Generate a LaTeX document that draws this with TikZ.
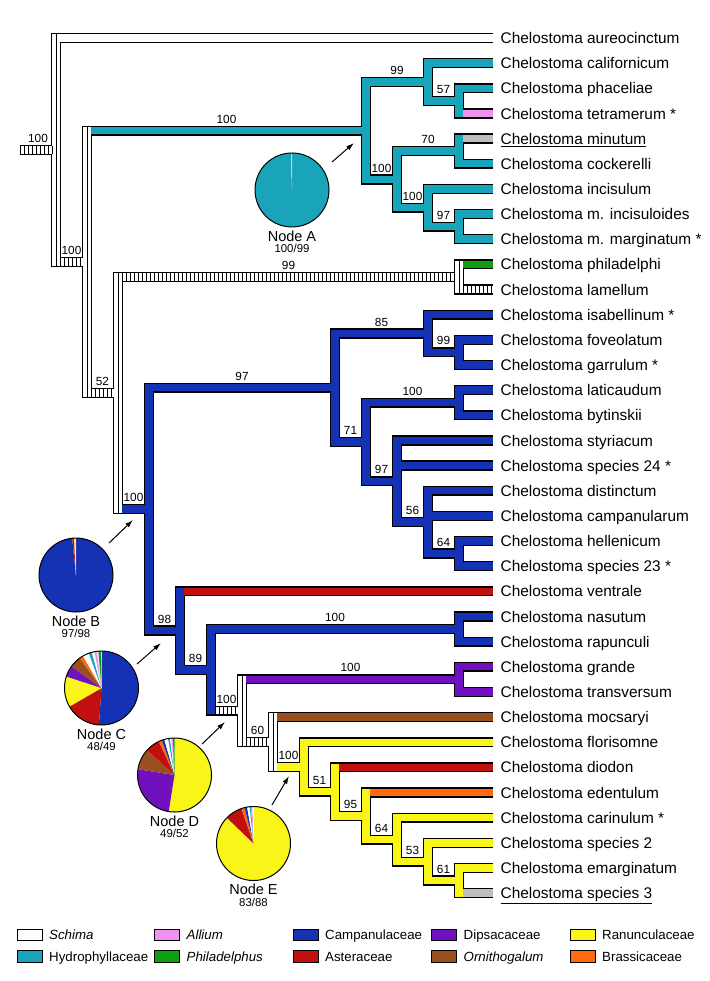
\documentclass[tikz,border=0pt]{standalone}
\usepackage{fontspec}
\setmainfont{Liberation Sans}
\usetikzlibrary{calc,arrows.meta}
\definecolor{cTeal}{RGB}{26,164,186}
\definecolor{cBlue}{RGB}{22,50,180}
\definecolor{cRed}{RGB}{192,16,16}
\definecolor{cPurple}{RGB}{112,16,190}
\definecolor{cBrown}{RGB}{154,80,30}
\definecolor{cYellow}{RGB}{250,245,25}
\definecolor{cOrange}{RGB}{255,105,15}
\definecolor{cPink}{RGB}{240,145,240}
\definecolor{cGreen}{RGB}{15,160,15}
\definecolor{cGrey}{RGB}{190,190,190}
\begin{document}
\begin{tikzpicture}[x=1pt,y=-1pt,
  outl/.style={draw=black,line width=10.2pt,line join=miter,line cap=butt},
  sfill/.style={draw=#1,line width=7.4pt,line cap=butt},
  vfill/.style={draw=#1,line width=7.4pt,line cap=rect},
  hatchln/.style={draw=black,line width=7.4pt,line cap=butt,dash pattern=on 1pt off 3pt},
  vhatch/.style={draw=black,line width=0.9pt},
  leaflbl/.style={anchor=base west,inner sep=0pt,font=\fontsize{15.4}{18}\selectfont},
  suplbl/.style={anchor=base,inner sep=0pt,font=\fontsize{11.8}{14}\selectfont},
  piecap/.style={anchor=base,inner sep=0pt,font=\fontsize{14.5}{17}\selectfont},
  piefrac/.style={anchor=base,inner sep=0pt,font=\fontsize{11.4}{13}\selectfont},
  legbox/.style={draw=black,line width=1pt,minimum width=25pt,minimum height=11.5pt,inner sep=0pt},
  legtxt/.style={anchor=base west,inner sep=0pt,font=\fontsize{13.3}{16}\selectfont},
  pointer/.style={draw=black,line width=1pt,-{Latex[length=8pt,width=5pt]}}]
\useasboundingbox (0,0) rectangle (709,981);
% leaves
\foreach \i in {1,...,35} \coordinate (L\i) at (493,{38+25.15*(\i-1)});
% internal nodes
\coordinate (r0) at (20,149.95);
\coordinate (root) at (56,149.95);
\coordinate (n2) at (87,261.89);
\coordinate (nA) at (366,130.74);
\coordinate (n99a) at (428,82.01);
\coordinate (n57) at (459,100.88);
\coordinate (n100a) at (397,179.47);
\coordinate (n70) at (459,151.18);
\coordinate (n100b) at (428,207.76);
\coordinate (n97a) at (459,226.63);
\coordinate (n52) at (118,393.04);
\coordinate (nPh) at (459,276.93);
\coordinate (nB) at (149,509.16);
\coordinate (n97b) at (335,387.74);
\coordinate (n85) at (428,333.51);
\coordinate (n99c) at (459,352.38);
\coordinate (n71) at (366,441.97);
\coordinate (n100c) at (459,402.68);
\coordinate (n97c) at (397,481.27);
\coordinate (n56) at (428,522.14);
\coordinate (n64a) at (459,553.58);
\coordinate (n98) at (180,630.57);
\coordinate (n89) at (211,669.84);
\coordinate (n100d) at (459,629.03);
\coordinate (n100e) at (242,710.66);
\coordinate (n100f) at (459,679.33);
\coordinate (n60) at (273,742.00);
\coordinate (n100g) at (304,766.96);
\coordinate (n51) at (335,791.71);
\coordinate (n95) at (366,816.08);
\coordinate (n64b) at (397,839.66);
\coordinate (n53) at (428,861.66);
\coordinate (n61) at (459,880.53);
% ---- outlines
\draw[outl] (r0) -- (root);
\foreach \n/\a/\b in {root/L1/n2, n2/nA/n52, nA/n99a/n100a, n99a/L2/n57, n57/L3/L4,
  n100a/n70/n100b, n70/L5/L6, n100b/L7/n97a, n97a/L8/L9, n52/nPh/nB, nPh/L10/L11,
  nB/n97b/n98, n97b/n85/n71, n85/L12/n99c, n99c/L13/L14, n71/n100c/n97c, n100c/L15/L16,
  n97c/L17/n56, n56/L19/n64a, n64a/L21/L22, n98/L23/n89, n89/n100d/n100e, n100d/L24/L25,
  n100e/n100f/n60, n100f/L26/L27, n60/L28/n100g, n100g/L29/n51, n51/L30/n95, n95/L31/n64b,
  n64b/L32/n53, n53/L33/n61, n61/L34/L35}
  \draw[outl] (\a) -| (\n) |- (\b);
\draw[outl] (n97c |- L18) -- (L18);
\draw[outl] (n56 |- L20) -- (L20);
% ---- stem fills
\draw[sfill=white] (r0) -- (root);
\foreach \p/\c/\col in {root/L1/white, root/n2/white, n2/nA/cTeal, n2/n52/white,
  nA/n99a/cTeal, nA/n100a/cTeal, n99a/L2/cTeal, n99a/n57/cTeal, n57/L3/cTeal, n57/L4/cPink,
  n100a/n70/cTeal, n100a/n100b/cTeal, n70/L5/cGrey, n70/L6/cTeal, n100b/L7/cTeal, n100b/n97a/cTeal,
  n97a/L8/cTeal, n97a/L9/cTeal,
  n52/nPh/white, n52/nB/cBlue, nPh/L10/cGreen, nPh/L11/white,
  nB/n97b/cBlue, nB/n98/cBlue, n97b/n85/cBlue, n97b/n71/cBlue, n85/L12/cBlue, n85/n99c/cBlue,
  n99c/L13/cBlue, n99c/L14/cBlue, n71/n100c/cBlue, n71/n97c/cBlue, n100c/L15/cBlue, n100c/L16/cBlue,
  n97c/L17/cBlue, n97c/L18/cBlue, n97c/n56/cBlue, n56/L19/cBlue, n56/L20/cBlue, n56/n64a/cBlue,
  n64a/L21/cBlue, n64a/L22/cBlue,
  n98/L23/cRed, n98/n89/cBlue, n89/n100d/cBlue, n89/n100e/white, n100d/L24/cBlue, n100d/L25/cBlue,
  n100e/n100f/cPurple, n100e/n60/white, n100f/L26/cPurple, n100f/L27/cPurple,
  n60/L28/cBrown, n60/n100g/cYellow, n100g/L29/cYellow, n100g/n51/cYellow, n51/L30/cRed,
  n51/n95/cYellow, n95/L31/cOrange, n95/n64b/cYellow, n64b/L32/cYellow, n64b/n53/cYellow,
  n53/L33/cYellow, n53/n61/cYellow, n61/L34/cYellow, n61/L35/cGrey}
  \draw[sfill=\col] (\p |- \c) -- (\c);
% ---- vertical fills
\foreach \n/\a/\b/\col in {root/L1/n2/white, n2/nA/n52/white, nA/n99a/n100a/cTeal,
  n99a/L2/n57/cTeal, n57/L3/L4/cTeal, n100a/n70/n100b/cTeal, n70/L5/L6/cTeal,
  n100b/L7/n97a/cTeal, n97a/L8/L9/cTeal, n52/nPh/nB/white, nPh/L10/L11/white,
  nB/n97b/n98/cBlue, n97b/n85/n71/cBlue, n85/L12/n99c/cBlue, n99c/L13/L14/cBlue,
  n71/n100c/n97c/cBlue, n100c/L15/L16/cBlue, n97c/L17/n56/cBlue, n56/L19/n64a/cBlue,
  n64a/L21/L22/cBlue, n98/L23/n89/cBlue, n89/n100d/n100e/cBlue, n100d/L24/L25/cBlue,
  n100e/n100f/n60/white, n100f/L26/L27/cPurple, n60/L28/n100g/white, n100g/L29/n51/cYellow,
  n51/L30/n95/cYellow, n95/L31/n64b/cYellow, n64b/L32/n53/cYellow, n53/L33/n61/cYellow,
  n61/L34/L35/cYellow}
  \draw[vfill=\col] (\n |- \a) -- (\n |- \b);
% ---- hatching (equivocal)
\draw[hatchln] (r0) -- ($(root)+(-3.7,0)$);
\foreach \p/\c in {root/n2, n2/n52, n52/nPh, n89/n100e, n100e/n60}
  \draw[hatchln] ($(\p |- \c)+(3.7,0)$) -- ($(\c)+(-3.7,0)$);
\draw[hatchln] ($(nPh |- L11)+(3.7,0)$) -- (L11);
\foreach \n/\a/\b in {root/L1/n2, n2/nA/n52, n52/nPh/nB, nPh/L10/L11, n100e/n100f/n60, n60/L28/n100g}
  \draw[vhatch] ($(\n |- \a)+(0,-3.7)$) -- ($(\n |- \b)+(0,3.7)$);
% ---- support values
\foreach \p/\n/\v in {r0/root/100, root/n2/100, n2/nA/100, nA/n99a/99, n99a/n57/57,
  nA/n100a/100, n100a/n70/70, n100a/n100b/100, n100b/n97a/97, n2/n52/52, n52/nPh/99,
  n52/nB/100, nB/n97b/97, n97b/n85/85, n85/n99c/99, n97b/n71/71, n71/n100c/100, n71/n97c/97,
  n97c/n56/56, n56/n64a/64, nB/n98/98, n98/n89/89, n89/n100d/100, n89/n100e/100,
  n100e/n100f/100, n100e/n60/60, n60/n100g/100, n100g/n51/51, n51/n95/95, n95/n64b/64,
  n64b/n53/53, n53/n61/61}
  \node[suplbl] (s-\n) at ($(\p |- \n)!.5!(\n)+(0,-7.4)$) {\v};
% ---- taxon names
\foreach \i/\t in {1/{Chelostoma aureocinctum}, 2/{Chelostoma californicum},
  3/{Chelostoma phaceliae}, 4/{Chelostoma tetramerum *}, 5/{\underline{Chelostoma minutum}},
  6/{Chelostoma cockerelli}, 7/{Chelostoma incisulum}, 8/{Chelostoma m. incisuloides},
  9/{Chelostoma m. marginatum *}, 10/{Chelostoma philadelphi}, 11/{Chelostoma lamellum},
  12/{Chelostoma isabellinum *}, 13/{Chelostoma foveolatum}, 14/{Chelostoma garrulum *},
  15/{Chelostoma laticaudum}, 16/{Chelostoma bytinskii}, 17/{Chelostoma styriacum},
  18/{Chelostoma species 24 *}, 19/{Chelostoma distinctum}, 20/{Chelostoma campanularum},
  21/{Chelostoma hellenicum}, 22/{Chelostoma species 23 *}, 23/{Chelostoma ventrale},
  24/{Chelostoma nasutum}, 25/{Chelostoma rapunculi}, 26/{Chelostoma grande},
  27/{Chelostoma transversum}, 28/{Chelostoma mocsaryi}, 29/{Chelostoma florisomne},
  30/{Chelostoma diodon}, 31/{Chelostoma edentulum}, 32/{Chelostoma carinulum *},
  33/{Chelostoma species 2}, 34/{Chelostoma emarginatum}, 35/{\underline{Chelostoma species 3}}}
  \node[leaflbl] (t\i) at ($(L\i)+(7.5,5.6)$) {\t};
% ---- pies
\coordinate (pA) at (292,190);
\coordinate (pB) at (76,575);
\coordinate (pC) at (101.5,688);
\coordinate (pD) at (174.5,775);
\coordinate (pE) at (253.5,843.5);
\begin{scope}[shift={(pA)},yscale=-1]
\foreach \a/\b/\c in {90/-268.8/cTeal, -268.8/-269.4/white, -269.4/-270/cPink}
  \fill[\c] (0,0) -- (\a:37) arc[start angle=\a,end angle=\b,radius=37] -- cycle;
\draw[line width=1pt] (0,0) circle[radius=37];
\end{scope}
\begin{scope}[shift={(pB)},yscale=-1]
\foreach \a/\b/\c in {90/-264/cBlue, -264/-266.5/cRed, -266.5/-267.3/cOrange,
  -267.3/-268.5/cYellow, -268.5/-269.5/white, -269.5/-270/cPink}
  \fill[\c] (0,0) -- (\a:37) arc[start angle=\a,end angle=\b,radius=37] -- cycle;
\draw[line width=1pt] (0,0) circle[radius=37];
\end{scope}
\begin{scope}[shift={(pC)},yscale=-1]
\foreach \a/\b/\c in {90/-94/cBlue, -94/-150/cRed, -150/-198/cYellow, -198/-216/cPurple,
  -216/-234/cBrown, -234/-240/cOrange, -240/-250/white, -250/-255/cTeal, -255/-259/white,
  -259/-263/cPink, -263/-265/white, -265/-269.5/cGreen, -269.5/-270/white}
  \fill[\c] (0,0) -- (\a:37) arc[start angle=\a,end angle=\b,radius=37] -- cycle;
\draw[line width=1pt] (0,0) circle[radius=37];
\end{scope}
\begin{scope}[shift={(pD)},yscale=-1]
\foreach \a/\b/\c in {90/-99/cYellow, -99/-189/cPurple, -189/-222/cBrown, -222/-245/cRed,
  -245/-250/cOrange, -250/-254/cBlue, -254/-260/white, -260/-263/cTeal, -263/-265/white,
  -265/-267.5/cPink, -267.5/-270/cGreen}
  \fill[\c] (0,0) -- (\a:37) arc[start angle=\a,end angle=\b,radius=37] -- cycle;
\draw[line width=1pt] (0,0) circle[radius=37];
\end{scope}
\begin{scope}[shift={(pE)},yscale=-1]
\foreach \a/\b/\c in {90/-224/cYellow, -224/-251/cRed, -251/-256/cOrange, -256/-260/cBlue,
  -260/-264/white, -264/-266/cTeal, -266/-268.5/cPink, -268.5/-270/white}
  \fill[\c] (0,0) -- (\a:37) arc[start angle=\a,end angle=\b,radius=37] -- cycle;
\draw[line width=1pt] (0,0) circle[radius=37];
\end{scope}
\node[piecap] (capA) at ($(pA)+(0,51.2)$) {Node A};
\node[piefrac] (frA) at ($(pA)+(0,62.6)$) {100/99};
\node[piecap] (capB) at ($(pB)+(0,51.2)$) {Node B};
\node[piefrac] (frB) at ($(pB)+(0,62.6)$) {97/98};
\node[piecap] (capC) at ($(pC)+(0,51.2)$) {Node C};
\node[piefrac] (frC) at ($(pC)+(0,62.6)$) {48/49};
\node[piecap] (capD) at ($(pD)+(0,51.2)$) {Node D};
\node[piefrac] (frD) at ($(pD)+(0,62.6)$) {49/52};
\node[piecap] (capE) at ($(pE)+(0,51.2)$) {Node E};
\node[piefrac] (frE) at ($(pE)+(0,62.6)$) {83/88};
% ---- arrows
\coordinate (aA0) at (332,162); \coordinate (aA1) at (354,143);
\coordinate (aB0) at (109,543); \coordinate (aB1) at (133,520);
\coordinate (aC0) at (137,664); \coordinate (aC1) at (161,643);
\coordinate (aD0) at (202,744); \coordinate (aD1) at (225,722);
\coordinate (aE0) at (272,805); \coordinate (aE1) at (289,776);
\foreach \k in {A,B,C,D,E} \draw[pointer] (a\k0) -- (a\k1);
% ---- legend
\foreach \k/\x/\y/\col/\t in {1/29.5/935/white/{\itshape Schima},
  2/167/935/cPink/{\itshape Allium}, 3/305.5/935/cBlue/{Campanulaceae},
  4/444/935/cPurple/{Dipsacaceae}, 5/582.5/935/cYellow/{Ranunculaceae},
  6/29.5/956.5/cTeal/{Hydrophyllaceae}, 7/167/956.5/cGreen/{\itshape Philadelphus},
  8/305.5/956.5/cRed/{Asteraceae}, 9/444/956.5/cBrown/{\itshape Ornithogalum},
  10/582.5/956.5/cOrange/{Brassicaceae}}
{
  \node[legbox,fill=\col] (k\k) at (\x,\y) {};
  \node[legtxt] (kt\k) at ($(k\k.east)+(6.5,4.7)$) {\t};
}
\end{tikzpicture}
\end{document}
